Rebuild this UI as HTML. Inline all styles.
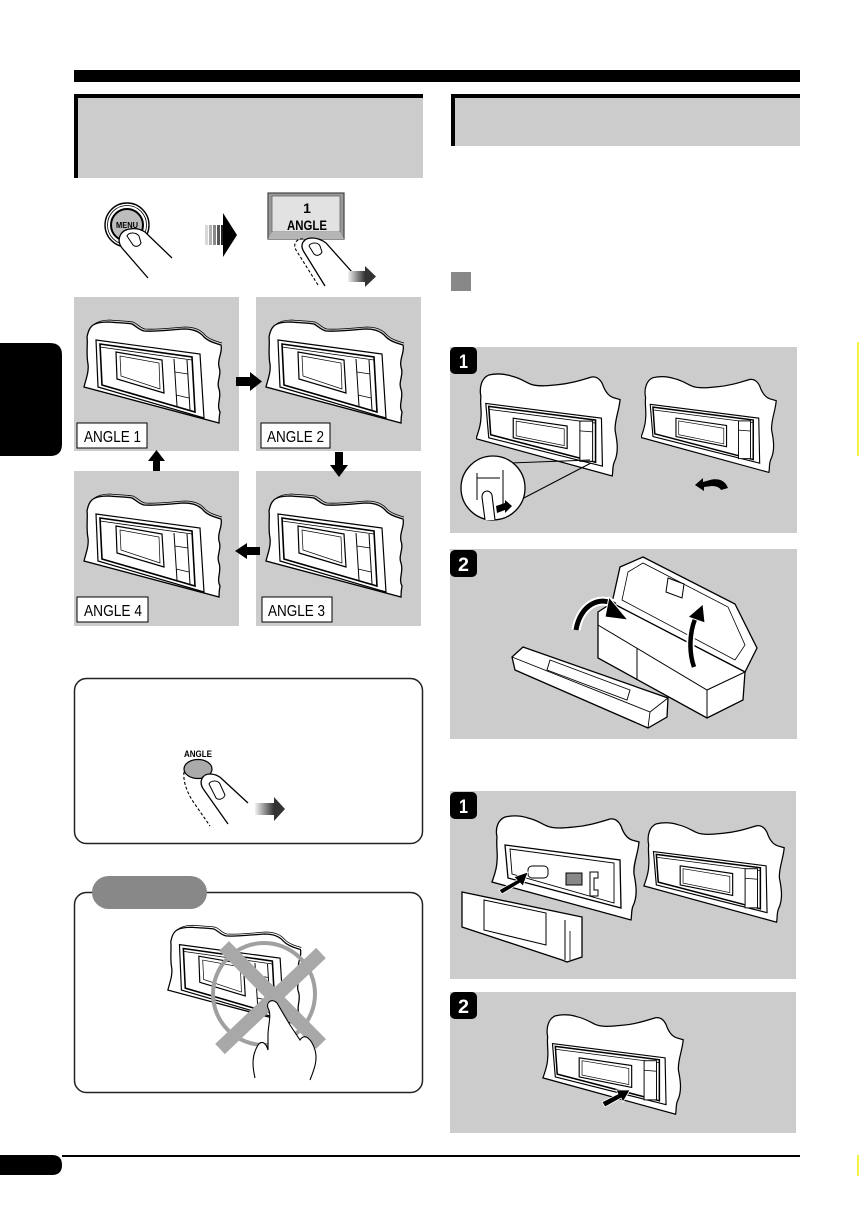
<!DOCTYPE html>
<html><head><meta charset="utf-8">
<style>
html,body{margin:0;padding:0;background:#fff;}
body{width:859px;height:1211px;overflow:hidden;position:relative;}
svg{position:absolute;left:0;top:0;display:block;}
text{font-family:"Liberation Sans",sans-serif;}
</style></head>
<body>
<svg width="859" height="1211" viewBox="0 0 859 1211" xmlns="http://www.w3.org/2000/svg">
<defs>
  <symbol id="dA" viewBox="0 0 166 155">
    <path d="M17,30 C20,26 28,25 35,25 C45,26 52,26 58,27 C62,29 65,33 70,34 C80,35 95,33 110,32 C120,32 126,35 130,40 C134,44 140,46 147,48 C149,55 143,62 145,70 C148,78 142,85 145,92 C148,100 142,108 146,115 C145,120 145,123 145,126 L10,90 C12,82 15,75 14,67 C12,58 14,45 13,40 C14,35 15,32 17,30 Z" fill="#fff" stroke="#000" stroke-width="1.3"/>
    <path d="M19,28 C24,24 30,23 36,23 C46,24 53,24 59,25 C64,27 66,31 71,32 C82,33 96,31 111,30 C121,30 127,33 131,38 C135,42 141,44 148,46" fill="none" stroke="#000" stroke-width="0.8"/>
    <polygon points="22,43 126,57 130,121 24,90" fill="#fff" stroke="#000" stroke-width="1.2"/>
    <polygon points="26,47 118,60 121,115 28,88" fill="#fff" stroke="#000" stroke-width="1.6"/>
    <line x1="26" y1="50" x2="118" y2="63" stroke="#000" stroke-width="0.8"/>
    <polygon points="42,55 88,63 90,96 43,82" fill="#fff" stroke="#000" stroke-width="1.2"/>
    <polygon points="46,59 85,66 86,92 47,79" fill="none" stroke="#000" stroke-width="0.7"/>
    <line x1="100" y1="62" x2="103" y2="109" stroke="#000" stroke-width="1"/>
    <line x1="113" y1="63" x2="116" y2="113" stroke="#000" stroke-width="1"/>
    <line x1="101" y1="75" x2="114" y2="77" stroke="#000" stroke-width="0.8"/>
    <line x1="102" y1="98" x2="115" y2="101" stroke="#000" stroke-width="0.8"/>
  </symbol>
  <symbol id="dB" viewBox="0 0 150 110">
    <path d="M5,25 C3,15 6,6 13,3 C22,1 30,2 36,4 C45,6 50,10 55,12 C62,15 72,14 82,13 C95,12 105,9 118,5 C124,4 127,8 129,12 C131,18 134,24 140,26 L147,28 C146,40 141,50 142,60 C144,70 146,82 141,92 C139,97 140,101 139,106 L0,68 C2,62 5,55 5,47 C6,40 4,32 5,25 Z" fill="#fff" stroke="#000" stroke-width="1.3"/>
    <polygon points="10,32 128,47 129,96 13,67" fill="#fff" stroke="#000" stroke-width="1.2"/>
    <polygon points="13,35 122,49 122,92 15,64" fill="#fff" stroke="#000" stroke-width="1.6"/>
    <line x1="13" y1="38" x2="122" y2="52" stroke="#000" stroke-width="0.8"/>
    <polygon points="38,47 93,55 93,78 38,67" fill="#fff" stroke="#000" stroke-width="1.2"/>
    <polygon points="41,50 90,58 90,75 41,65" fill="none" stroke="#000" stroke-width="0.7"/>
    <rect x="106" y="50" width="13" height="41" fill="#fff" stroke="#000" stroke-width="1"/>
    <line x1="106" y1="60" x2="119" y2="61" stroke="#000" stroke-width="0.8"/>
  </symbol>
  <linearGradient id="gA" x1="0" x2="1" y1="0" y2="0">
    <stop offset="0" stop-color="#f2f2f2"/><stop offset="1" stop-color="#333"/>
  </linearGradient>
</defs>

<!-- top bar -->
<rect x="74" y="70" width="726" height="12" fill="#000"/>

<!-- heading boxes -->
<rect x="74" y="94" width="349" height="84" fill="#cccccc"/>
<rect x="74" y="94" width="349" height="4" fill="#000"/>
<rect x="74" y="94" width="4" height="84" fill="#000"/>
<rect x="451" y="94" width="349" height="52" fill="#cccccc"/>
<rect x="451" y="94" width="349" height="4" fill="#000"/>
<rect x="451" y="94" width="4" height="52" fill="#000"/>

<!-- side tab -->
<path d="M0,343 H50 Q62,343 62,355 V444 Q62,456 50,456 H0 Z" fill="#000"/>

<!-- MENU button -->
<circle cx="127" cy="225" r="22" fill="#fff" stroke="#000" stroke-width="1.4"/>
<circle cx="127" cy="225" r="19.5" fill="#fff" stroke="#000" stroke-width="0.8"/>
<circle cx="127" cy="225" r="16" fill="#bdbdbd" stroke="#000" stroke-width="2"/>
<text x="127" y="228" font-size="8.5" font-weight="bold" text-anchor="middle" textLength="22" lengthAdjust="spacingAndGlyphs">MENU</text>
<path d="M148,278 L122,248 C116,240 120,230 130,229 C136,228 140,229 145,232 L172,258" fill="#fff" stroke="#000" stroke-width="1.3"/>
<path d="M127,236 C129,232 136,232 139,236 L141,243 C139,247 135,247 133,245 Z" fill="#fff" stroke="#000" stroke-width="1"/>

<!-- striped arrow -->
<rect x="205" y="225" width="3" height="20" fill="#d8d8d8"/>
<rect x="209" y="225" width="3" height="20" fill="#b0b0b0"/>
<rect x="213" y="225" width="3" height="20" fill="#888"/>
<rect x="217" y="225" width="3" height="20" fill="#555"/>
<rect x="221" y="225" width="3" height="20" fill="#222"/>
<polygon points="223,213 237,235 223,257" fill="#000"/>

<!-- ANGLE button top -->
<rect x="268" y="193" width="76" height="46" fill="#9a9a9a" stroke="#444" stroke-width="1.2"/>
<rect x="272" y="196" width="68" height="36" fill="#e2e2e2" stroke="#666" stroke-width="0.8"/>
<polygon points="272,232 340,232 344,239 268,239" fill="#b5b5b5"/>
<text x="307" y="213" font-size="14" font-weight="bold" text-anchor="middle">1</text>
<text x="307" y="230" font-size="14" font-weight="bold" text-anchor="middle" textLength="40" lengthAdjust="spacingAndGlyphs">ANGLE</text>
<path d="M318,285 L296,250 C292,243 298,238 304,239" fill="none" stroke="#000" stroke-width="1.1" stroke-dasharray="3,2"/>
<path d="M325,286 L304,252 C299,244 304,238 312,238 C318,238 322,240 326,243 L352,272" fill="#fff" stroke="#000" stroke-width="1.3"/>
<path d="M309,246 C311,242 318,242 320,246 L322,252 C320,256 316,256 314,254 Z" fill="#fff" stroke="#000" stroke-width="1"/>
<rect x="348" y="271" width="17" height="11" fill="url(#gA)"/>
<polygon points="365,266 376,276.5 365,287" fill="#333"/>

<!-- ANGLE panels -->
<rect x="74" y="297" width="165" height="154" fill="#cccccc"/>
<rect x="256" y="297" width="165" height="154" fill="#cccccc"/>
<rect x="74" y="471" width="165" height="155" fill="#cccccc"/>
<rect x="256" y="471" width="165" height="155" fill="#cccccc"/>
<use href="#dA" x="74" y="297" width="166" height="155"/>
<use href="#dA" x="256" y="297" width="166" height="155"/>
<use href="#dA" x="74" y="471" width="166" height="155"/>
<use href="#dA" x="256" y="471" width="166" height="155"/>

<rect x="77" y="423" width="70" height="25" fill="#fff" stroke="#000" stroke-width="1"/>
<text x="84" y="442" font-size="16" textLength="57" lengthAdjust="spacingAndGlyphs">ANGLE 1</text>
<rect x="261" y="423" width="69" height="25" fill="#fff" stroke="#000" stroke-width="1"/>
<text x="267" y="442" font-size="16" textLength="57" lengthAdjust="spacingAndGlyphs">ANGLE 2</text>
<rect x="77" y="597" width="71" height="25" fill="#fff" stroke="#000" stroke-width="1"/>
<text x="84" y="616" font-size="16" textLength="58" lengthAdjust="spacingAndGlyphs">ANGLE 4</text>
<rect x="262" y="597" width="70" height="25" fill="#fff" stroke="#000" stroke-width="1"/>
<text x="268" y="616" font-size="16" textLength="57" lengthAdjust="spacingAndGlyphs">ANGLE 3</text>

<!-- cycle arrows -->
<path d="M236,377 H250 V372 L262,381.5 L250,391 V386 H236 Z" fill="#000"/>
<path d="M156.5,450 L165,461 H160 V471 H153 V461 H148 Z" fill="#000"/>
<path d="M335,452 H343 V465 H348 L339,477 L330,465 H335 Z" fill="#000"/>
<path d="M235,551 L247,543 V547 H260 V555 H247 V559 Z" fill="#000"/>

<!-- rounded box 1 -->
<rect x="74.5" y="678.5" width="348" height="165" rx="12" fill="#fff" stroke="#222" stroke-width="1.5"/>
<text x="198" y="757" font-size="9.5" font-weight="bold" text-anchor="middle" textLength="28" lengthAdjust="spacingAndGlyphs">ANGLE</text>
<ellipse cx="198" cy="769" rx="14" ry="9.5" fill="#aaa" stroke="#000" stroke-width="1.2"/>
<path d="M184,772 C183,780 186,790 192,800 L210,826" fill="none" stroke="#000" stroke-width="1.1" stroke-dasharray="3,2"/>
<path d="M228,824 L204,790 C198,782 202,774 210,774 C215,774 219,776 222,779 L248,803" fill="#fff" stroke="#000" stroke-width="1.3"/>
<path d="M209,784 C211,780 218,780 220,784 L225,795 C223,800 218,800 216,798 Z" fill="#fff" stroke="#000" stroke-width="1"/>
<rect x="255" y="803" width="19" height="12" fill="url(#gA)"/>
<polygon points="274,797 285,809 274,821" fill="#333"/>

<!-- rounded box 2 -->
<rect x="74.5" y="892.5" width="348" height="200" rx="12" fill="#fff" stroke="#222" stroke-width="1.5"/>
<rect x="92" y="876" width="115" height="33" rx="16.5" fill="#888"/>
<use href="#dA" x="158" y="903" width="161" height="150"/>
<circle cx="264" cy="994" r="51" fill="none" stroke="#a0a0a0" stroke-width="4"/>
<line x1="224" y1="946" x2="321" y2="1044" stroke="#a8a8a8" stroke-width="14"/>
<line x1="321" y1="953" x2="220" y2="1049" stroke="#a8a8a8" stroke-width="14"/>
<path d="M255,1078 C252,1065 252,1055 258,1045 C262,1040 266,1043 268,1050 L268,1035 C268,1025 272,1015 268,1008 C266,1002 272,998 277,1003 L290,1025 L300,1040 C305,1032 312,1040 315,1050 C318,1060 314,1070 310,1080" fill="#fff" stroke="#000" stroke-width="1.1"/>

<!-- right column -->
<rect x="451" y="272" width="20" height="19" fill="#888"/>

<!-- panel 1 -->
<rect x="450" y="347" width="347" height="186" fill="#cccccc"/>
<rect x="450" y="347" width="27" height="27" rx="5" fill="#000"/>
<text x="463.5" y="368" font-size="19" font-weight="bold" fill="#fff" text-anchor="middle" textLength="9" lengthAdjust="spacingAndGlyphs">1</text>
<use href="#dB" x="476" y="372" width="147" height="108"/>
<use href="#dB" x="641" y="372" width="138" height="107"/>
<line x1="510" y1="463" x2="590" y2="460" stroke="#000" stroke-width="1"/>
<line x1="520" y1="500" x2="591" y2="463" stroke="#000" stroke-width="1"/>
<circle cx="493" cy="488" r="32" fill="#fff" stroke="#000" stroke-width="1.3"/>
<path d="M477,473 V500 M503,470 V505 M477,478 H500" fill="none" stroke="#000" stroke-width="1"/>
<path d="M485,520 L482,497 C482,490 490,489 492,495 L495,520" fill="#fff" stroke="#000" stroke-width="1.1"/>
<polygon points="496,506 505,503 505,500 512,506 505,513 505,510 497,513" fill="#000"/>
<path d="M728,488 C725,480 718,478 710,480 L703,482 V478 L695,485 L704,491 V487 L712,486 C717,486 720,488 721,490 Z" fill="#000"/>

<!-- panel 2 -->
<rect x="450" y="549" width="347" height="190" fill="#cccccc"/>
<rect x="450" y="550" width="27" height="27" rx="5" fill="#000"/>
<text x="463.5" y="571" font-size="19" font-weight="bold" fill="#fff" text-anchor="middle" textLength="11" lengthAdjust="spacingAndGlyphs">2</text>
<polygon points="620,567 643,557 735,604 757,648 745,672 612,603" fill="#fff" stroke="#000" stroke-width="1.3"/>
<polygon points="628,572 643,563 728,607 745,645 735,660 622,600" fill="none" stroke="#000" stroke-width="0.8"/>
<polygon points="668,578 684,584 682,598 666,592" fill="#fff" stroke="#000" stroke-width="1"/>
<polygon points="598,612 612,603 745,672 743,700 707,718 598,658" fill="#fff" stroke="#000" stroke-width="1.3"/>
<polyline points="598,625 707,690 745,672" fill="none" stroke="#000" stroke-width="1"/>
<line x1="707" y1="690" x2="707" y2="718" stroke="#000" stroke-width="1"/>
<line x1="637" y1="648" x2="637" y2="680" stroke="#000" stroke-width="1"/>
<polygon points="512,657 523,647 668,698 667,717 648,728 515,670" fill="#fff" stroke="#000" stroke-width="1.3"/>
<polyline points="512,657 650,712 668,698" fill="none" stroke="#000" stroke-width="0.9"/>
<line x1="650" y1="712" x2="648" y2="728" stroke="#000" stroke-width="0.9"/>
<polygon points="550,660 630,690 627,700 547,670" fill="none" stroke="#000" stroke-width="0.9"/>
<path d="M576,630 C580,605 600,595 615,605" fill="none" stroke="#fff" stroke-width="9"/>
<path d="M576,630 C580,605 600,595 615,605" fill="none" stroke="#000" stroke-width="5"/>
<polygon points="609,597 628,620 605,617" fill="#000" stroke="#fff" stroke-width="1"/>
<path d="M694,667 C688,650 690,628 697,615" fill="none" stroke="#fff" stroke-width="8"/>
<path d="M694,667 C688,650 690,628 697,615" fill="none" stroke="#000" stroke-width="4.5"/>
<polygon points="688,617 703,604 705,623" fill="#000" stroke="#fff" stroke-width="1"/>

<!-- panel 3 -->
<rect x="450" y="791" width="346" height="188" fill="#cccccc"/>
<rect x="450" y="792" width="27" height="27" rx="5" fill="#000"/>
<text x="463.5" y="813" font-size="19" font-weight="bold" fill="#fff" text-anchor="middle" textLength="9" lengthAdjust="spacingAndGlyphs">1</text>
<path d="M497,837 C495,828 498,820 505,817 C514,815 522,816 528,818 C537,820 542,824 547,826 C554,829 564,828 574,827 C587,826 597,823 610,819 C616,818 619,822 621,826 C623,832 626,838 632,840 L639,842 C638,854 633,864 634,874 C636,884 638,896 633,906 C631,911 632,915 631,920 L492,882 C494,876 497,869 497,861 C498,854 496,846 497,837 Z" fill="#fff" stroke="#000" stroke-width="1.3"/>
<polygon points="505,845 620,860 621,908 508,878" fill="#fff" stroke="#000" stroke-width="1.3"/>
<polygon points="510,849 614,863 614,903 512,874" fill="#fff" stroke="#000" stroke-width="0.9"/>
<rect x="528" y="866" width="20" height="12" rx="4" fill="#fff" stroke="#000" stroke-width="1"/>
<rect x="566" y="873" width="16" height="12" fill="#888" stroke="#000" stroke-width="1"/>
<path d="M590,872 H598 V878 H594 V890 H598 V896 H590 Z" fill="#fff" stroke="#000" stroke-width="1"/>
<polygon points="462,892 582,917 582,957 567,962 562,960 462,927" fill="#fff" stroke="#000" stroke-width="1.3"/>
<polygon points="484,900 546,913 546,945 484,930" fill="none" stroke="#000" stroke-width="1"/>
<line x1="565" y1="920" x2="565" y2="960" stroke="#000" stroke-width="1"/>
<line x1="570" y1="931" x2="570" y2="960" stroke="#000" stroke-width="0.8"/>
<path d="M499,890 L517,880 L514,877 L528,872 L523,886 L520,883 L502,894 Z" fill="#000" stroke="#fff" stroke-width="0.8"/>
<use href="#dB" x="642" y="821" width="147" height="105"/>

<!-- panel 4 -->
<rect x="450" y="992" width="346" height="141" fill="#cccccc"/>
<rect x="450" y="992" width="27" height="27" rx="5" fill="#000"/>
<text x="463.5" y="1013" font-size="19" font-weight="bold" fill="#fff" text-anchor="middle" textLength="11" lengthAdjust="spacingAndGlyphs">2</text>
<use href="#dB" x="540" y="1013" width="149" height="105"/>
<path d="M602,1102 L618,1094 L616,1090 L630,1090 L623,1102 L621,1098 L605,1107 Z" fill="#000" stroke="#fff" stroke-width="0.8"/>

<!-- bottom -->
<rect x="62" y="1155" width="738" height="2" fill="#000"/>
<path d="M0,1155 H52 Q62,1155 62,1165 Q62,1175 52,1175 H0 Z" fill="#000"/>

<!-- edge marks -->
<line x1="858" y1="342" x2="858" y2="456" stroke="#f0f000" stroke-width="1.5"/>
<line x1="858" y1="1155" x2="858" y2="1176" stroke="#f0f000" stroke-width="1.5"/>
</svg>
</body></html>
